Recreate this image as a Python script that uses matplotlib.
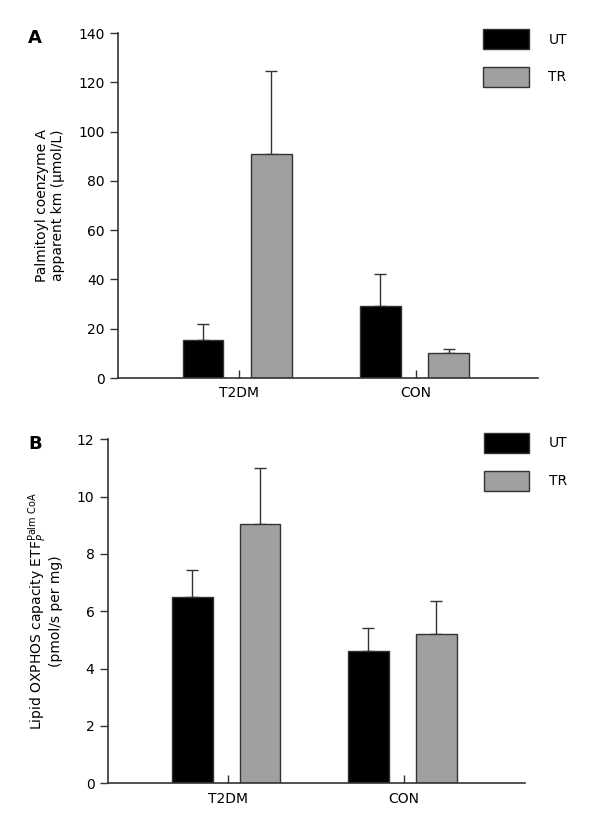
import numpy as np
import matplotlib
matplotlib.use('Agg')
import matplotlib.pyplot as plt
from matplotlib.patches import Patch

groups = ['T2DM', 'CON']
series = ['UT', 'TR']

# panel A: palmitoyl CoA apparent km (umol/L)
km_mean = {'UT': [15.4, 29.2], 'TR': [91.0, 10.0]}
km_err = {'UT': [6.5, 13.0], 'TR': [33.8, 1.9]}

# panel B: lipid OXPHOS capacity (pmol/s per mg)
ox_mean = {'UT': [6.51, 4.63], 'TR': [9.06, 5.20]}
ox_err = {'UT': [0.94, 0.78], 'TR': [1.94, 1.17]}

colors = {'UT': '#000000', 'TR': '#a0a0a0'}
offsets = {'UT': -0.2, 'TR': 0.185}
width = 0.23
axis_col = '#333333'

plt.rcParams['font.family'] = 'DejaVu Sans'
plt.rcParams['mathtext.fontset'] = 'dejavusans'

fig = plt.figure(figsize=(6.0, 8.22), dpi=100)


def draw_panel(ax, means, errs, ylim, yticks, ylabel, letter, legend_anchor):
    x = np.arange(len(groups))
    handles = []
    for s in series:
        ax.bar(x + offsets[s], means[s], width, color=colors[s],
               edgecolor=axis_col, linewidth=1.0, zorder=2)
        ax.errorbar(x + offsets[s], means[s],
                    yerr=[np.zeros(len(groups)), errs[s]],
                    fmt='none', ecolor=axis_col, elinewidth=1.0,
                    capsize=4.5, capthick=1.0, zorder=1)
        handles.append(Patch(facecolor=colors[s], edgecolor=axis_col,
                             linewidth=1.0, label=s))
    ax.set_xlim(-0.68, 1.69)
    ax.set_ylim(*ylim)
    ax.set_yticks(yticks)
    ax.set_xticks(x)
    ax.set_xticklabels(groups, fontsize=10)
    ax.tick_params(axis='x', direction='in', length=6, width=1.0,
                   color=axis_col, pad=6)
    ax.tick_params(axis='y', direction='out', length=6, width=1.0,
                   color=axis_col, labelsize=10)
    for sp in ['top', 'right']:
        ax.spines[sp].set_visible(False)
    for sp in ['left', 'bottom']:
        ax.spines[sp].set_color(axis_col)
        ax.spines[sp].set_linewidth(1.2)
    ax.set_ylabel(ylabel, fontsize=10, labelpad=10, linespacing=1.1)
    fig.text(0.058, ax.get_position().y1 - 0.006, letter, fontsize=13,
             fontweight='bold', va='center', ha='center')
    ax.legend(handles=handles, loc='upper left', bbox_to_anchor=legend_anchor,
              bbox_transform=fig.transFigure, frameon=False, borderpad=0,
              borderaxespad=0, handlelength=3.3, handleheight=1.85,
              labelspacing=1.28, handletextpad=1.4, fontsize=10)


axA = fig.add_axes([0.1967, 0.5401, 0.70, 0.4197])
draw_panel(axA, km_mean, km_err, (0, 140), np.arange(0, 141, 20),
           'Palmitoyl coenzyme A\napparent km (\u03bcmol/L)', 'A',
           (0.805, 0.9647))

axB = fig.add_axes([0.1795, 0.0471, 0.696, 0.4185])
draw_panel(axB, ox_mean, ox_err, (0, 12), np.arange(0, 13, 2),
           'Lipid OXPHOS capacity ETF$_{P}^{\\mathrm{Palm\\ CoA}}$\n(pmol/s per mg)',
           'B', (0.806, 0.4735))

fig.savefig('out.png', dpi=100)
